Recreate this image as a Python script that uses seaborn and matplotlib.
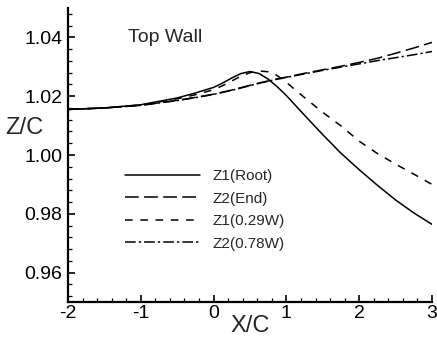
import matplotlib
matplotlib.use('Agg')
import matplotlib.pyplot as plt
import seaborn as sns
from matplotlib.ticker import MultipleLocator

# data
x_c = [-2, -1.5, -1, -0.5, -0.25, 0, 0.125, 0.25, 0.375, 0.5, 0.625, 0.75,
       0.875, 1, 1.25, 1.5, 1.75, 2, 2.25, 2.5, 2.75, 3]

z1_root = [1.0155, 1.0160, 1.0171, 1.0194, 1.0211, 1.0230, 1.0245, 1.0262,
           1.0277, 1.0284, 1.0277, 1.0258, 1.0232, 1.0202, 1.0135, 1.0069,
           1.0006, 0.9950, 0.9897, 0.9847, 0.9803, 0.9764]
z2_end = [1.0155, 1.0160, 1.0169, 1.0186, 1.0196, 1.0207, 1.0214, 1.0221,
          1.0229, 1.0237, 1.0245, 1.0252, 1.0259, 1.0265, 1.0278, 1.0290,
          1.0302, 1.0315, 1.0329, 1.0346, 1.0364, 1.0383]
z1_029w = [1.0155, 1.0160, 1.0170, 1.0191, 1.0205, 1.0222, 1.0236, 1.0252,
           1.0268, 1.0280, 1.0286, 1.0283, 1.0270, 1.0247, 1.0195, 1.0145,
           1.0099, 1.0047, 1.0005, 0.9969, 0.9935, 0.9900]
z2_078w = [1.0155, 1.0160, 1.0169, 1.0185, 1.0195, 1.0206, 1.0213, 1.0220,
           1.0228, 1.0236, 1.0244, 1.0251, 1.0258, 1.0264, 1.0276, 1.0288,
           1.0299, 1.0310, 1.0321, 1.0331, 1.0341, 1.0352]

names = ['Z1(Root)', 'Z2(End)', 'Z1(0.29W)', 'Z2(0.78W)']
series = [z1_root, z2_end, z1_029w, z2_078w]
dash_styles = [None, (9, 3.5), (5, 5), (7, 2, 1.5, 2)]

sns.set_theme(style='ticks')
plt.rcParams['font.family'] = ['Liberation Sans', 'DejaVu Sans']
plt.rcParams['axes.unicode_minus'] = False

fig = plt.figure(figsize=(4.37, 3.39), dpi=100)
ax = fig.add_axes([0.1556, 0.1091, 0.833, 0.8673])

for name, z, dash in zip(names, series, dash_styles):
    sns.lineplot(x=x_c, y=z, color='black', lw=1.1, label=name, ax=ax,
                 estimator=None, sort=False)
    if dash:
        ax.lines[-1].set_dashes(dash)

ax.set_xlim(-2, 3)
ax.set_ylim(0.95, 1.05)
ax.xaxis.set_major_locator(MultipleLocator(1))
ax.xaxis.set_minor_locator(MultipleLocator(0.2))
ax.yaxis.set_major_locator(MultipleLocator(0.02))
ax.yaxis.set_minor_locator(MultipleLocator(0.004))
ax.yaxis.set_major_formatter(matplotlib.ticker.FormatStrFormatter('%.2f'))

sns.despine(ax=ax)
for sp in ['left', 'bottom']:
    ax.spines[sp].set_linewidth(1.6)
    ax.spines[sp].set_color('black')

ax.tick_params(which='both', direction='in', colors='black', labelsize=14)
ax.tick_params(which='major', length=5, width=1.2)
ax.tick_params(which='minor', length=3, width=0.9)
ax.tick_params(axis='x', pad=2)
ax.tick_params(axis='y', pad=4)

ax.set_xlabel('X/C', fontsize=17, va='center')
ax.xaxis.set_label_coords(0.5, -0.082)
ax.set_ylabel('Z/C', fontsize=17, rotation=0, va='center', ha='center')
ax.yaxis.set_label_coords(-0.121, 0.592)

ax.text(0.165, 0.90, 'Top Wall', transform=ax.transAxes, fontsize=14,
        ha='left', va='center')

h, l = ax.get_legend_handles_labels()
ax.legend(h, l, loc='center left', bbox_to_anchor=(0.157, 0.313),
          frameon=False, fontsize=11, handlelength=4.9, handletextpad=0.85,
          labelspacing=0.55, borderpad=0, borderaxespad=0)

fig.savefig('out.png', dpi=100)
